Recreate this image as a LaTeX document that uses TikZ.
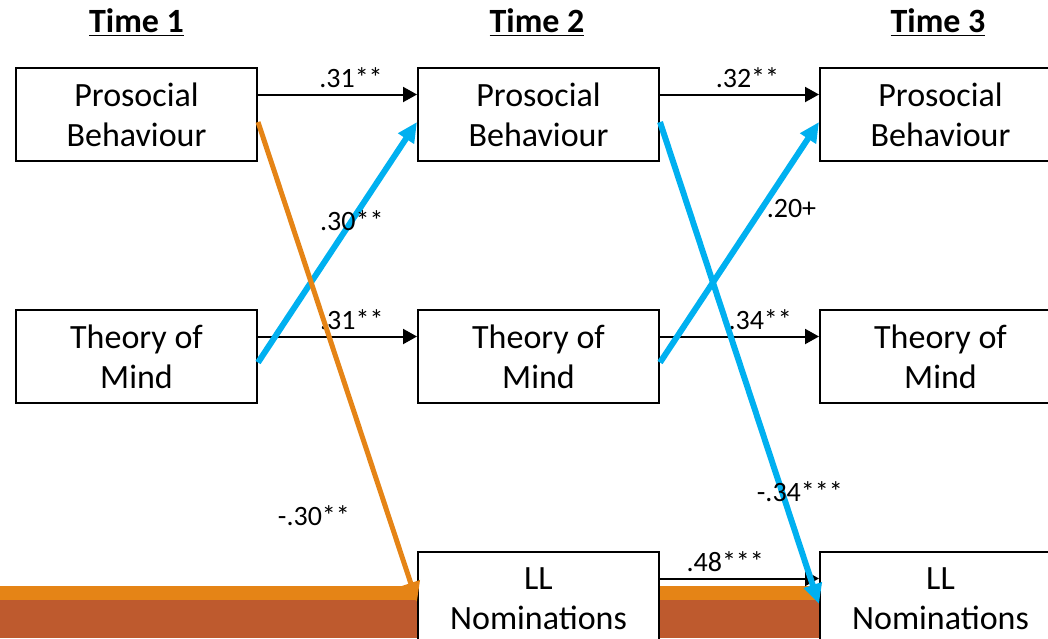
\documentclass[tikz,border=0pt]{standalone}
\usepackage{fontspec}
\setmainfont{Carlito}
\usetikzlibrary{arrows.meta, positioning}
\definecolor{pathBlue}{RGB}{0,176,240}
\definecolor{pathOrange}{RGB}{229,132,22}
\definecolor{bandBrown}{RGB}{190,90,46}

\begin{document}
\begin{tikzpicture}[x=0.5pt, y=-0.5pt,
  box/.style={rectangle, draw, line width=1pt, fill=white, minimum width=120.5pt,
              minimum height=46.5pt, inner sep=0pt, align=center,
              font=\fontsize{17}{20}\selectfont},
  hdr/.style={font=\fontsize{17}{20}\selectfont\bfseries},
  lbl/.style={font=\fontsize{14}{16}\selectfont, inner sep=1pt},
  arr/.style={-{Triangle[length=7pt, width=7.5pt]}, line width=1pt},
  blu/.style={-{Triangle[length=10pt, width=9pt]}, line width=3pt, draw=pathBlue},
  org/.style={-{Triangle[length=10pt, width=9pt]}, line width=2.5pt, draw=pathOrange},
  node distance=73.5pt and 79.5pt
]
\useasboundingbox (0,0) rectangle (1048,638);
% slide footer band
\fill[pathOrange] (0,586) rectangle (1048,600);
\fill[bandBrown] (0,600) rectangle (1048,638);

\node[box] (pb1) at (136.5,114.5) {Prosocial\\Behaviour};
\node[box, below=of pb1] (tm1) {Theory of\\Mind};
\node[box, right=of pb1] (pb2) {Prosocial\\Behaviour};
\node[box, below=of pb2] (tm2) {Theory of\\Mind};
\node[box, below=of tm2] (ll2) {LL\\Nominations};
\node[box, right=of pb2] (pb3) {Prosocial\\Behaviour};
\node[box, below=of pb3] (tm3) {Theory of\\Mind};
\node[box, below=of tm3] (ll3) {LL\\Nominations};

\node[hdr] (h1) at (136.5,23) {\underline{Time 1}};
\node[hdr] (h2) at (537,23) {\underline{Time 2}};
\node[hdr] (h3) at (938,23) {\underline{Time 3}};

% stability paths
\draw[arr] ([yshift=10pt]pb1.east) -- node[lbl, pos=0.585, above=2pt] {.31**} ([yshift=10pt]pb2.west);
\draw[arr] ([yshift=10pt]pb2.east) -- node[lbl, pos=0.55, above=2pt] {.32**} ([yshift=10pt]pb3.west);
\draw[arr] ([yshift=10pt]tm1.east) -- node[lbl, pos=0.59, above=2pt] {.31**} ([yshift=10pt]tm2.west);
\draw[arr] ([yshift=10pt]tm2.east) -- node[lbl, pos=0.63, above=2pt] {.34**} ([yshift=10pt]tm3.west);
\draw[arr] ([yshift=10pt]ll2.east) -- node[lbl, pos=0.41, above=2pt] {.48***} ([yshift=10pt]ll3.west);

% cross-lagged paths
\draw[blu] ([yshift=-3pt]tm1.east) -- node[lbl, pos=0.59] {.30**} ([yshift=-3.75pt]pb2.west);
\draw[blu] ([yshift=-3pt]tm2.east) -- node[lbl, pos=0.64, anchor=west] {.20+} ([yshift=-3.75pt]pb3.west);
\draw[blu] ([yshift=-3.75pt]pb2.east) -- node[lbl, pos=0.766, xshift=9pt] {-.34***} ([yshift=-2.75pt]ll3.west);
\draw[org] ([yshift=-3.75pt]pb1.east) -- node[lbl, pos=0.82, left=17pt] {-.30**} ([yshift=-1.75pt]ll2.west);
\end{tikzpicture}
\end{document}
